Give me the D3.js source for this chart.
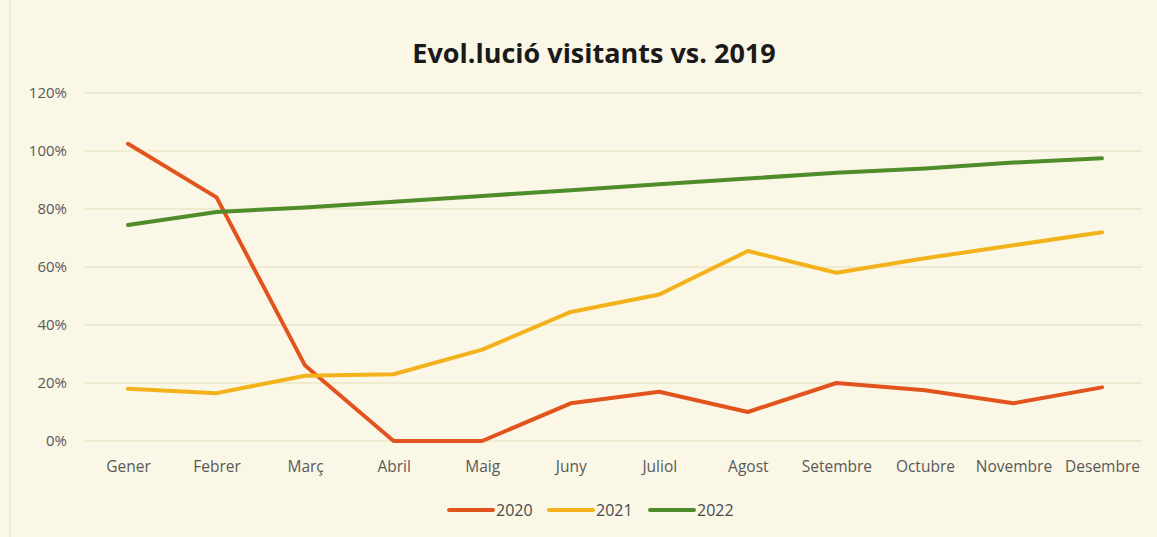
<!DOCTYPE html>
<html><head><meta charset="utf-8">
<script src="https://cdn.jsdelivr.net/npm/d3@7"></script>
<style>body{margin:0;background:#faf7e6;}svg{display:block;}</style>
</head><body>
<svg id="c" width="1157" height="537"></svg>
<script>
const months = ["Gener","Febrer","Març","Abril","Maig","Juny","Juliol","Agost","Setembre","Octubre","Novembre","Desembre"];
const v2020 = [102.5, 84, 26, 0, 0, 13, 17, 10, 20, 17.5, 13, 18.5];
const v2021 = [18, 16.5, 22.5, 23, 31.5, 44.5, 50.5, 65.5, 58, 63, 67.5, 72];
const v2022 = [74.5, 79, 80.5, 82.5, 84.5, 86.5, 88.5, 90.5, 92.5, 94, 96, 97.5];
const yTicks = [0, 20, 40, 60, 80, 100, 120];
const seriesNames = ["2020", "2021", "2022"];
const colors = ["#e2541e", "#f3b21c", "#4f8d2b"];

const svg = d3.select("#c");
svg.append("rect").attr("width",1157).attr("height",537).attr("fill","#faf7e6");
svg.append("line").attr("x1",10).attr("x2",10).attr("y1",0).attr("y2",537).attr("stroke","#f0ebc4").attr("stroke-width",2);

const x = d3.scalePoint().domain(months).range([128, 1102]);
const y = d3.scaleLinear().domain([0,120]).range([441, 93]);

// gridlines
svg.append("g").selectAll("line").data(yTicks).join("line")
  .attr("x1",84).attr("x2",1142).attr("y1",d=>y(d)).attr("y2",d=>y(d))
  .attr("stroke","#ebe7c6").attr("stroke-width",1.5);

// y axis labels
const yAxis = d3.axisLeft(y).tickValues(yTicks).tickFormat(d=>d+"%").tickSize(0).tickPadding(0);
const gy = svg.append("g").attr("transform","translate(67,0)").call(yAxis);
gy.select(".domain").remove();
gy.selectAll("text").attr("font-family","Open Sans, sans-serif").attr("font-size",15).attr("fill","#595959");

// x axis labels
const xAxis = d3.axisBottom(x).tickSize(0).tickPadding(0);
const gx = svg.append("g").attr("transform","translate(0,461)").call(xAxis);
gx.select(".domain").remove();
gx.selectAll("text").attr("font-family","Open Sans, sans-serif").attr("font-size",15.5).attr("fill","#595959");

// lines
const line = d3.line().x((d,i)=>x(months[i])).y(d=>y(d));
[v2020, v2021, v2022].forEach((vals, k) => {
  svg.append("path").datum(vals).attr("d", line)
    .attr("fill","none").attr("stroke", colors[k]).attr("stroke-width",4)
    .attr("stroke-linejoin","round").attr("stroke-linecap","round");
});

// title
svg.append("text").attr("x",594).attr("y",63).attr("text-anchor","middle")
  .attr("font-family","Open Sans, sans-serif").attr("font-weight","bold").attr("font-size",27)
  .attr("fill","#1a1a1a").text("Evol.lució visitants vs. 2019");

// legend
const legX = [449, 549, 650];
const lg = svg.append("g");
seriesNames.forEach((n,k)=>{
  lg.append("line").attr("x1",legX[k]).attr("x2",legX[k]+44).attr("y1",510).attr("y2",510)
    .attr("stroke",colors[k]).attr("stroke-width",4).attr("stroke-linecap","round");
  lg.append("text").attr("x",legX[k]+47).attr("y",516).attr("font-family","Open Sans, sans-serif")
    .attr("font-size",16).attr("fill","#4a4a4a").text(n);
});
</script>
</body></html>
